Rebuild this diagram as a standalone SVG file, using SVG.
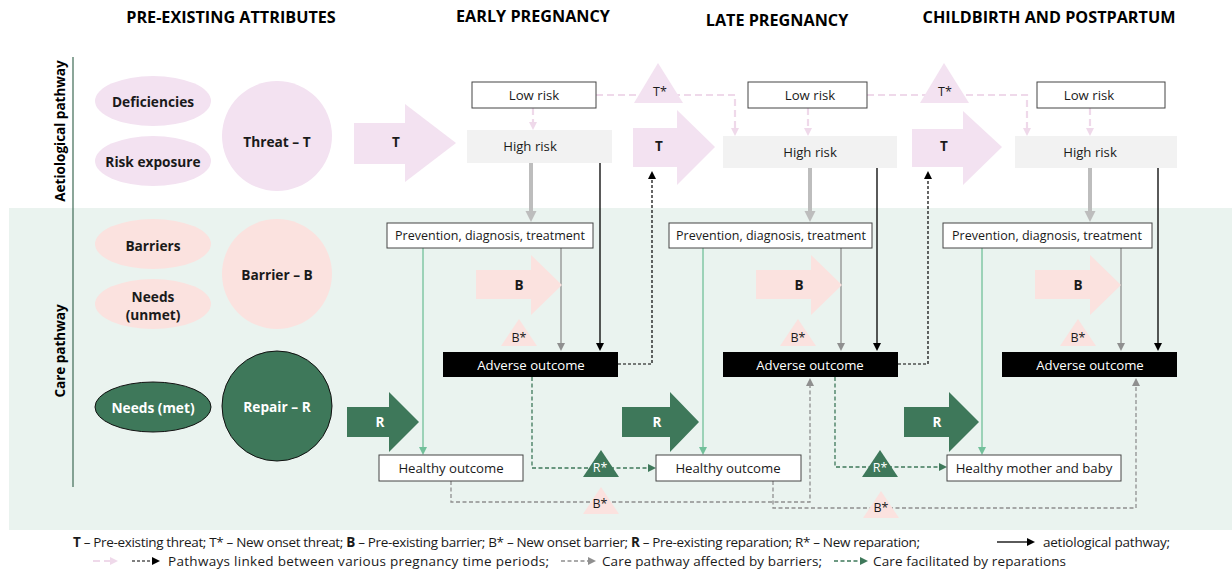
<svg xmlns="http://www.w3.org/2000/svg" width="1232" height="571" viewBox="0 0 1232 571">
<style>
text{font-family:"Open Sans","Noto Sans","Liberation Sans",sans-serif;fill:#1a1a1a}
.h{font-size:16.2px;font-weight:700;text-anchor:middle;fill:#000}
.side{font-size:13.5px;font-weight:700;text-anchor:middle;fill:#000}
.lbl{font-size:13.7px;font-weight:700;text-anchor:middle;dominant-baseline:central}
.wl{fill:#fff}
.n{font-size:13.2px;text-anchor:middle;dominant-baseline:central}
.pdt{font-size:12.5px}
.arrowlbl{font-size:13.5px;font-weight:700;text-anchor:middle;dominant-baseline:central}
.tri{font-size:12.5px;text-anchor:middle;dominant-baseline:central}
.leg{font-size:13.5px}
.pinkT{fill:#f3e2f1}
.pinkB{fill:#fbe2df}
.green{fill:#3e785a}
.box{fill:#fff;stroke:#444;stroke-width:1}
.hr{fill:#f2f2f2}
.adv{fill:#000}
.blk{stroke:#000;stroke-width:1.3;fill:none}
.gry{stroke:#8f8f8f;stroke-width:1.3;fill:none}
.thick{stroke:#bdbdbd;stroke-width:4;fill:none}
.grn{stroke:#72c09a;stroke-width:1.3;fill:none}
.gdash{stroke:#3e785a;stroke-width:1.3;fill:none;stroke-dasharray:4 2.5}
.ydash{stroke:#8f8f8f;stroke-width:1.3;fill:none;stroke-dasharray:4 2.5}
.bdash{stroke:#000;stroke-width:1.2;fill:none;stroke-dasharray:3 2}
.pdash{stroke:#efd9ea;stroke-width:2.2;fill:none;stroke-dasharray:7 4}
</style>
<defs>
<marker id="mBlk" viewBox="0 0 10 10" refX="0" refY="5" markerUnits="userSpaceOnUse" markerWidth="8" markerHeight="8" orient="auto"><path d="M0,0 L10,5 L0,10 z" fill="#000"/></marker>
<marker id="mGry" viewBox="0 0 10 10" refX="0" refY="5" markerUnits="userSpaceOnUse" markerWidth="8" markerHeight="8" orient="auto"><path d="M0,0 L10,5 L0,10 z" fill="#8f8f8f"/></marker>
<marker id="mThick" viewBox="0 0 10 10" refX="0" refY="5" markerUnits="userSpaceOnUse" markerWidth="11" markerHeight="12" orient="auto"><path d="M0,0 L10,5 L0,10 z" fill="#bdbdbd"/></marker>
<marker id="mGrn" viewBox="0 0 10 10" refX="0" refY="5" markerUnits="userSpaceOnUse" markerWidth="8" markerHeight="8" orient="auto"><path d="M0,0 L10,5 L0,10 z" fill="#72c09a"/></marker>
<marker id="mGd" viewBox="0 0 10 10" refX="0" refY="5" markerUnits="userSpaceOnUse" markerWidth="8" markerHeight="8" orient="auto"><path d="M0,0 L10,5 L0,10 z" fill="#3e785a"/></marker>
<marker id="mPk" viewBox="0 0 10 10" refX="0" refY="5" markerUnits="userSpaceOnUse" markerWidth="8" markerHeight="9" orient="auto"><path d="M0,0 L10,5 L0,10 z" fill="#efd9ea"/></marker>
</defs>

<rect x="9" y="208" width="1223" height="322" fill="#eaf3ef"/>
<line x1="73" y1="57" x2="73" y2="487" stroke="#3e6b55" stroke-width="1.2"/>

<text class="h" x="231" y="23">PRE-EXISTING ATTRIBUTES</text>
<text class="h" x="533" y="22">EARLY PREGNANCY</text>
<text class="h" x="777" y="26">LATE PREGNANCY</text>
<text class="h" x="1049" y="23">CHILDBIRTH AND POSTPARTUM</text>
<text class="side" transform="translate(65,131) rotate(-90)">Aetiological pathway</text>
<text class="side" transform="translate(65,351) rotate(-90)">Care pathway</text>

<g id="deficiencies"><ellipse class="pinkT" cx="153" cy="101" rx="58" ry="25"/><text class="lbl" x="153" y="101">Deficiencies</text></g>
<g id="risk-exposure"><ellipse class="pinkT" cx="153" cy="161" rx="58" ry="25"/><text class="lbl" x="153" y="161">Risk exposure</text></g>
<g id="threat"><circle class="pinkT" cx="277" cy="136" r="55"/><text class="lbl" x="277" y="141">Threat – T</text></g>
<g id="barriers"><ellipse class="pinkB" cx="153" cy="244" rx="58" ry="25"/><text class="lbl" x="153" y="245">Barriers</text></g>
<g id="needs-unmet"><ellipse class="pinkB" cx="153" cy="304" rx="58" ry="25"/><text class="lbl" x="153" y="296">Needs</text><text class="lbl" x="153" y="314">(unmet)</text></g>
<g id="barrier"><circle class="pinkB" cx="277" cy="274" r="55"/><text class="lbl" x="277" y="274">Barrier – B</text></g>
<g id="needs-met"><ellipse class="green" cx="153" cy="407" rx="58" ry="25" stroke="#111" stroke-width="1"/><text class="lbl wl" x="153" y="407">Needs (met)</text></g>
<g id="repair"><circle class="green" cx="277" cy="406" r="55" stroke="#111" stroke-width="1"/><text class="lbl wl" x="277" y="406">Repair – R</text></g>

<g id="connectors">
<path class="pdash" d="M596,95 H735 V128" marker-end="url(#mPk)"/>
<path class="pdash" d="M867,95 H1027 V128" marker-end="url(#mPk)"/>
<path class="pdash" d="M533,108 V122" marker-end="url(#mPk)"/>
<path class="pdash" d="M808,108 V128" marker-end="url(#mPk)"/>
<path class="pdash" d="M1090,108 V128" marker-end="url(#mPk)"/>
<path class="thick" d="M531,163 V211" marker-end="url(#mThick)"/>
<path class="thick" d="M810,168 V211" marker-end="url(#mThick)"/>
<path class="thick" d="M1090,168 V211" marker-end="url(#mThick)"/>
<path class="blk" d="M600,163 V343" marker-end="url(#mBlk)"/>
<path class="blk" d="M877,168 V343" marker-end="url(#mBlk)"/>
<path class="blk" d="M1158,168 V343" marker-end="url(#mBlk)"/>
<path class="gry" d="M561,248 V343" marker-end="url(#mGry)"/>
<path class="gry" d="M841,248 V343" marker-end="url(#mGry)"/>
<path class="gry" d="M1121,248 V343" marker-end="url(#mGry)"/>
<path class="grn" d="M423,248 V447" marker-end="url(#mGrn)"/>
<path class="grn" d="M703,248 V447" marker-end="url(#mGrn)"/>
<path class="grn" d="M982,248 V447" marker-end="url(#mGrn)"/>
<path class="gdash" d="M532,377 V468 H648" marker-end="url(#mGd)"/>
<path class="gdash" d="M835,377 V467 H939" marker-end="url(#mGd)"/>
<path class="ydash" d="M451,481 V502 H810 V386" marker-end="url(#mGry)"/>
<path class="ydash" d="M773,481 V508 H1136 V386" marker-end="url(#mGry)"/>
<path class="bdash" d="M618,364 H652 V179" marker-end="url(#mBlk)"/>
<path class="bdash" d="M898,364 H928 V179" marker-end="url(#mBlk)"/>
</g>

<g id="arrow-T1"><polygon class="pinkT" points="354,123 405,123 405,104 456,143 405,182 405,164 354,164"/><text class="arrowlbl" x="396" y="142">T</text></g>
<g id="arrow-T2"><polygon class="pinkT" points="633,128 677,128 677,110 715,147 677,185 677,167 633,167"/><text class="arrowlbl" x="659" y="146">T</text></g>
<g id="arrow-T3"><polygon class="pinkT" points="912,129 963,129 963,111 1002,147 963,185 963,167 912,167"/><text class="arrowlbl" x="944" y="146">T</text></g>
<g id="tstar-1"><polygon class="pinkT" points="658,63 683,103 634,103"/><text class="tri" x="660" y="91">T*</text></g>
<g id="tstar-2"><polygon class="pinkT" points="944,63 969,103 920,103"/><text class="tri" x="945" y="91">T*</text></g>

<g id="low-risk-1"><rect class="box" x="472" y="82" width="124" height="26"/><text class="n" x="534" y="95">Low risk</text></g>
<g id="low-risk-2"><rect class="box" x="748" y="82" width="119" height="26"/><text class="n" x="810" y="95">Low risk</text></g>
<g id="low-risk-3"><rect class="box" x="1037" y="82" width="128" height="26"/><text class="n" x="1089" y="95">Low risk</text></g>
<g id="high-risk-1"><rect class="hr" x="467" y="130" width="145" height="33"/><text class="n" x="530" y="146">High risk</text></g>
<g id="high-risk-2"><rect class="hr" x="723" y="136" width="174" height="32"/><text class="n" x="810" y="152">High risk</text></g>
<g id="high-risk-3"><rect class="hr" x="1015" y="136" width="162" height="32"/><text class="n" x="1090" y="152">High risk</text></g>

<g id="pdt-1"><rect class="box" x="387" y="223" width="206" height="25"/><text class="n pdt" x="490" y="235.5">Prevention, diagnosis, treatment</text></g>
<g id="pdt-2"><rect class="box" x="669" y="223" width="203" height="25"/><text class="n pdt" x="771" y="235.5">Prevention, diagnosis, treatment</text></g>
<g id="pdt-3"><rect class="box" x="943" y="223" width="209" height="25"/><text class="n pdt" x="1047" y="235.5">Prevention, diagnosis, treatment</text></g>

<g id="arrow-B1"><polygon class="pinkB" points="476,270 531,270 531,255 562,285 531,315 531,299 476,299"/><text class="arrowlbl" x="519" y="285">B</text></g>
<g id="arrow-B2"><polygon class="pinkB" points="756,270 811,270 811,255 842,285 811,315 811,299 756,299"/><text class="arrowlbl" x="799" y="285">B</text></g>
<g id="arrow-B3"><polygon class="pinkB" points="1035,270 1090,270 1090,255 1121,285 1090,315 1090,299 1035,299"/><text class="arrowlbl" x="1078" y="285">B</text></g>
<g id="bstar-1"><polygon class="pinkB" points="519,319 537,346 501,346"/><text class="tri" x="519" y="337">B*</text></g>
<g id="bstar-2"><polygon class="pinkB" points="798,319 816,346 780,346"/><text class="tri" x="798" y="337">B*</text></g>
<g id="bstar-3"><polygon class="pinkB" points="1078,319 1096,346 1060,346"/><text class="tri" x="1078" y="337">B*</text></g>

<g id="adverse-1"><rect class="adv" x="443" y="352" width="175" height="25"/><text class="n wl" x="531" y="364.5">Adverse outcome</text></g>
<g id="adverse-2"><rect class="adv" x="723" y="352" width="175" height="25"/><text class="n wl" x="810" y="364.5">Adverse outcome</text></g>
<g id="adverse-3"><rect class="adv" x="1002" y="352" width="175" height="25"/><text class="n wl" x="1090" y="364.5">Adverse outcome</text></g>

<g id="arrow-R1"><polygon class="green" points="347,407 389,407 389,392 419,422 389,452 389,437 347,437"/><text class="arrowlbl wl" x="380" y="422">R</text></g>
<g id="arrow-R2"><polygon class="green" points="622,407 670,407 670,392 699,422 670,452 670,437 622,437"/><text class="arrowlbl wl" x="657" y="422">R</text></g>
<g id="arrow-R3"><polygon class="green" points="904,407 949,407 949,392 979,422 949,452 949,437 904,437"/><text class="arrowlbl wl" x="937" y="422">R</text></g>

<g id="healthy-1"><rect class="box" x="379" y="455" width="144" height="26"/><text class="n" x="451" y="468">Healthy outcome</text></g>
<g id="healthy-2"><rect class="box" x="656" y="455" width="145" height="26"/><text class="n" x="728" y="468">Healthy outcome</text></g>
<g id="healthy-3"><rect class="box" x="947" y="455" width="174" height="26"/><text class="n" x="1034" y="468">Healthy mother and baby</text></g>

<g id="rstar-1"><polygon class="green" points="601,450 619,477 583,477"/><text class="tri wl" x="600" y="467">R*</text></g>
<g id="rstar-2"><polygon class="green" points="880,450 898,477 862,477"/><text class="tri wl" x="880" y="467">R*</text></g>
<g id="bstar-4"><polygon class="pinkB" points="601,487 619,514 583,514"/><text class="tri" x="600" y="503">B*</text></g>
<g id="bstar-5"><polygon class="pinkB" points="881,491 899,518 863,518"/><text class="tri" x="881" y="507">B*</text></g>

<g id="legend">
<text class="leg" x="73" y="547" textLength="847" lengthAdjust="spacing"><tspan font-weight="700">T</tspan> –  Pre-existing threat; T* – New onset threat; <tspan font-weight="700">B</tspan> – Pre-existing barrier; B* – New onset barrier; <tspan font-weight="700">R</tspan> – Pre-existing reparation; R* –  New reparation;</text>
<path class="blk" d="M997,542 H1027" marker-end="url(#mBlk)"/>
<text class="leg" x="1043" y="547" textLength="127" lengthAdjust="spacing">aetiological pathway;</text>
<path class="pdash" d="M93,561 H110" stroke-dasharray="3 2" marker-end="url(#mPk)"/>
<path class="bdash" d="M132,561 H152" stroke-dasharray="2 1.5" marker-end="url(#mBlk)"/>
<text class="leg" x="168" y="566" textLength="381" lengthAdjust="spacing">Pathways linked between various pregnancy time periods;</text>
<path class="ydash" d="M561,561 H588" stroke-dasharray="2 1.5" marker-end="url(#mGry)"/>
<text class="leg" x="602" y="566" textLength="220" lengthAdjust="spacing">Care pathway affected by barriers;</text>
<path class="gdash" d="M834,561 H860" stroke-dasharray="2 1.5" marker-end="url(#mGd)"/>
<text class="leg" x="873" y="566" textLength="193" lengthAdjust="spacing">Care facilitated by reparations</text>
</g>
</svg>
